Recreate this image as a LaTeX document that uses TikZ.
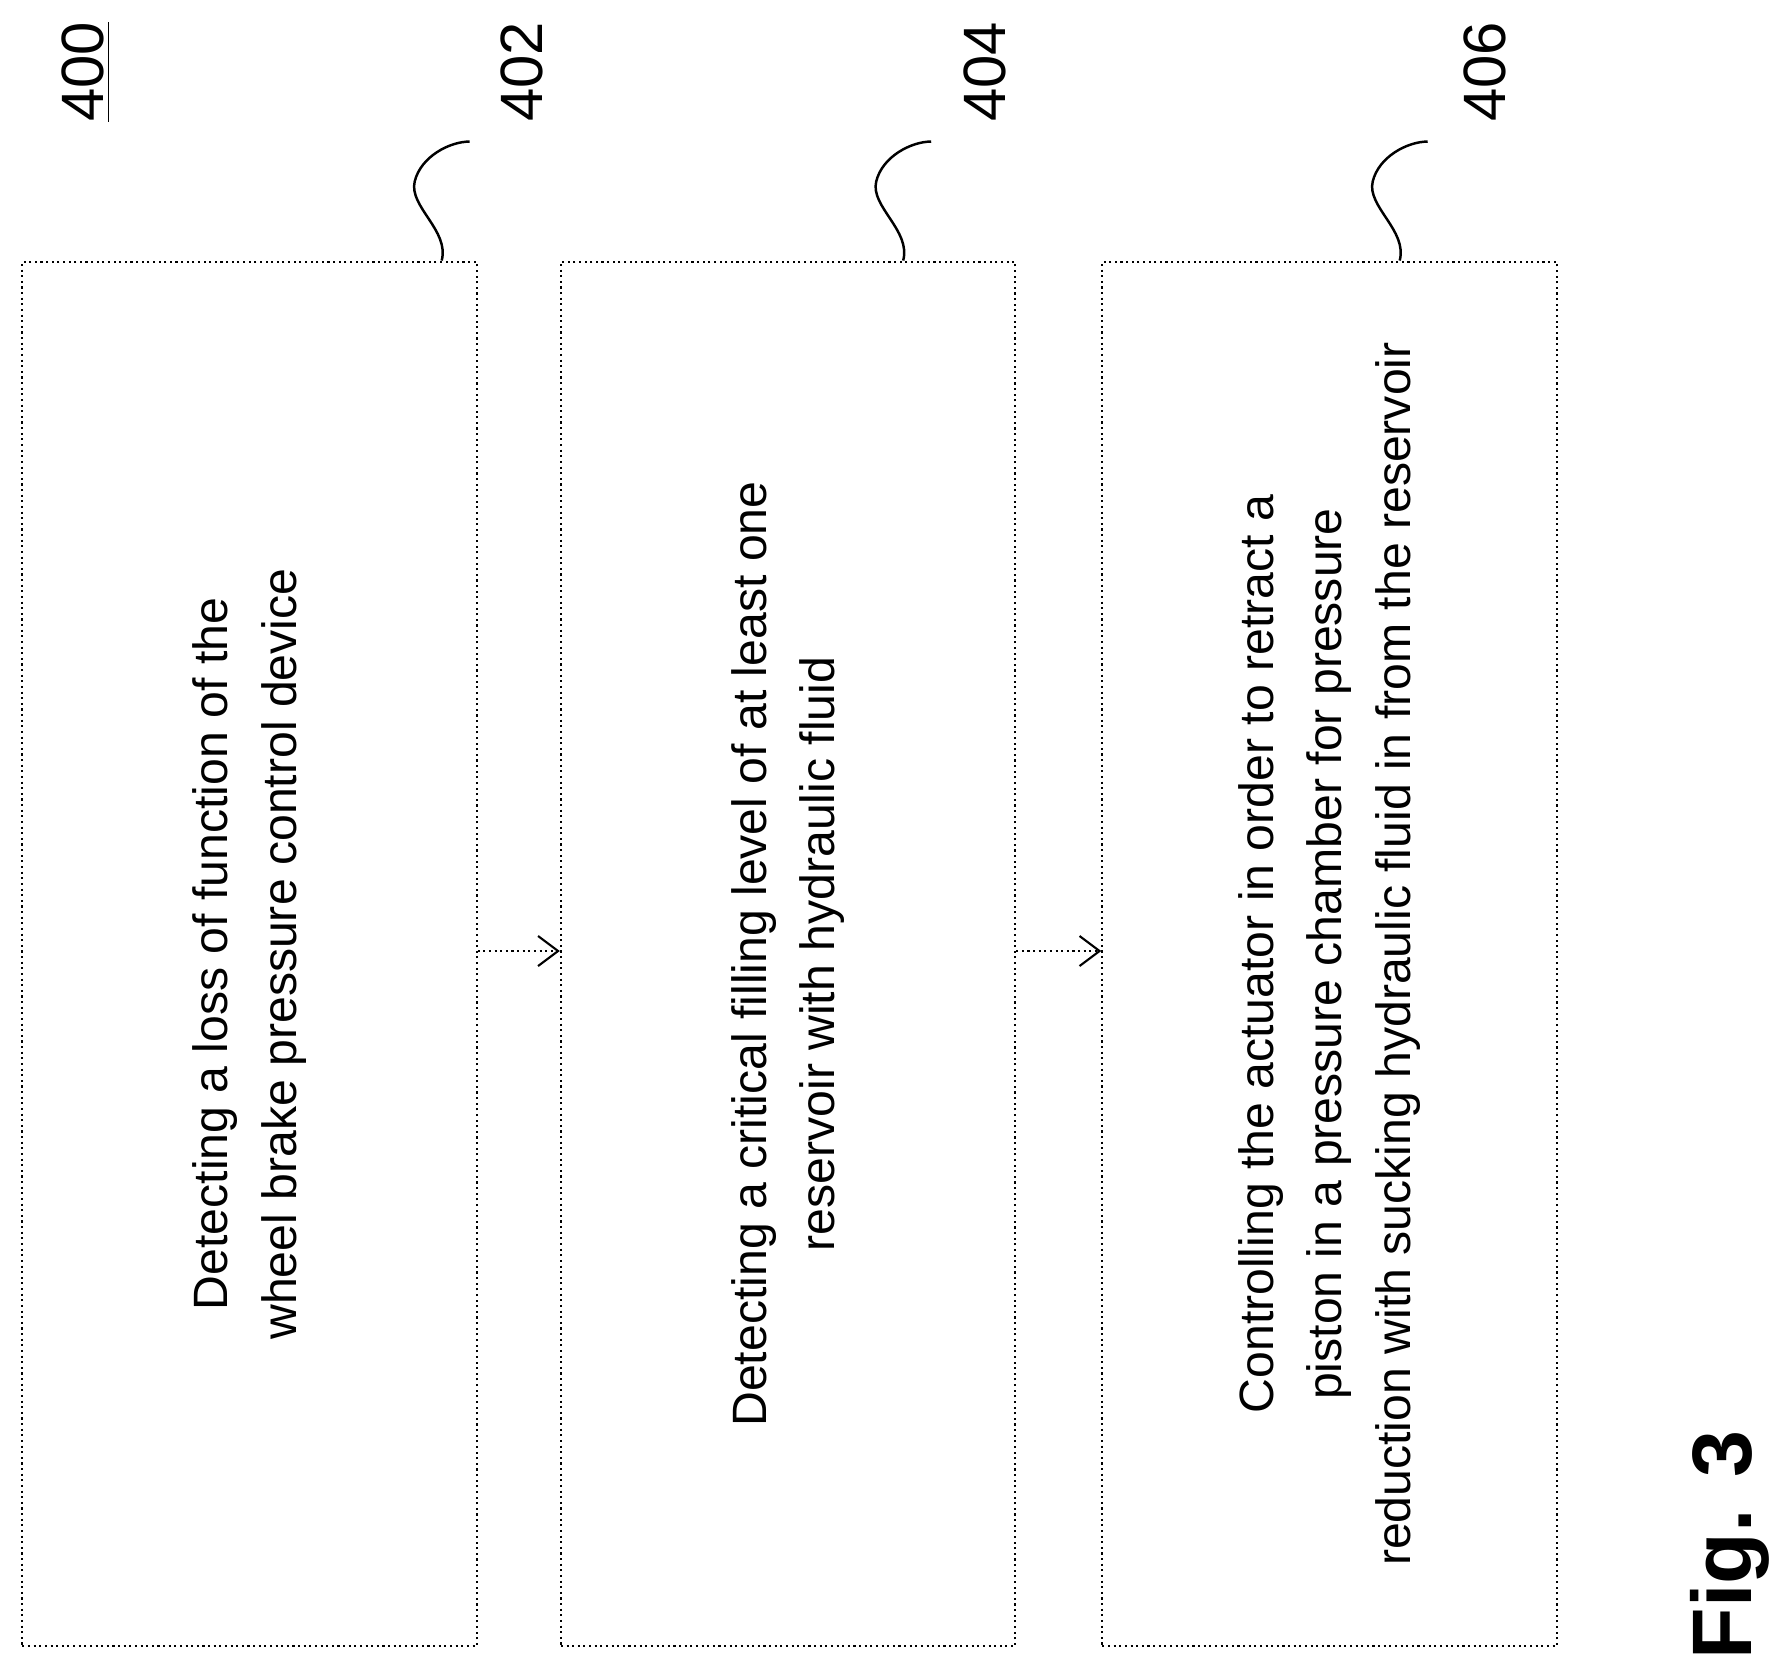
\documentclass[tikz,border=0pt]{standalone}
\usepackage{fontspec}
\setmainfont{Liberation Sans}
\usetikzlibrary{arrows.meta}
\tikzset{
  stepbox/.style={draw, line width=0.6pt, densely dotted, minimum width=4.54cm, minimum height=13.84cm, inner sep=0pt},
  steptext/.style={rotate=90, align=center, font=\fontsize{13.7}{19.5}\selectfont},
  reflabel/.style={rotate=90, font=\fontsize{17}{20}\selectfont},
  flowarrow/.style={densely dotted, line width=0.6pt, -{Straight Barb[length=2mm, width=3mm]}},
  leader/.style={line width=0.7pt}
}
\newcommand\stepleader[3]{\draw[leader] (#1.north east) ++(#3,0) .. controls ++(8,-30) and ++(-6,25) .. ++(-27,-79) .. controls ++(6,-25) and ++(-20,0) .. coordinate (#2) ++(55,-40);}

\begin{document}
\begin{tikzpicture}[x=0.01cm, y=-0.01cm]
      \useasboundingbox (0,0) rectangle (1791,1668);

      % Figure number
      \node[reflabel] (fig) at (86,72) {\underline{400}};

      % Method steps
      \node[stepbox] (s402) at (249.5,954) {};
      \node[stepbox] (s404) at (788,954) {};
      \node[stepbox] (s406) at (1329.5,954) {};

      \node[steptext] (t402) at (249.5,954) {Detecting a loss of function of the\\wheel brake pressure control device};
      \node[steptext] (t404) at (788,954) {Detecting a critical filling level of at least one\\reservoir with hydraulic fluid};
      \node[steptext] (t406) at (1329.5,954) {Controlling the actuator in order to retract a\\piston in a pressure chamber for pressure\\reduction with sucking hydraulic fluid in from the reservoir};

      % Leaders and reference numbers
      \stepleader{s402}{e402}{-36}
      \stepleader{s404}{e404}{-113}
      \stepleader{s406}{e406}{-158}
      \node[reflabel] (n402) at (522,72) {402};
      \node[reflabel] (n404) at (985,72) {404};
      \node[reflabel] (n406) at (1485,72) {406};

      % Flow
      \draw[flowarrow] (s402.east |- 0,951) -- (s404.west |- 0,951);
      \draw[flowarrow] (s404.east |- 0,951) -- (s406.west |- 0,951);

      \node[rotate=90, font=\bfseries\fontsize{24}{28}\selectfont] (figno) at (1730,1545) {Fig. 3};
    \end{tikzpicture}
\end{document}
